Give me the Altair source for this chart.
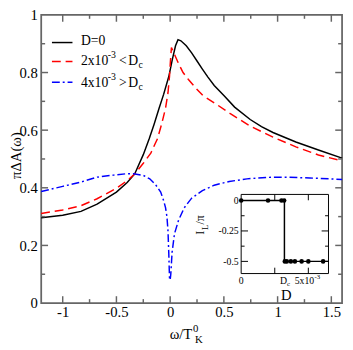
import altair as alt
import pandas as pd

W, H = 308, 295
FONT = "Liberation Serif, Times New Roman, DejaVu Serif, serif"
GRAY = "#666666"

# ---- main curves (omega/T_K, pi*Delta*A) ----
black_x = [-1.2, -1.0, -0.83, -0.68, -0.5, -0.4, -0.33, -0.25, -0.195, -0.15, -0.103, -0.06, -0.012,
           0.02, 0.05, 0.073, 0.1, 0.15, 0.2, 0.25, 0.3, 0.35, 0.41, 0.5, 0.6, 0.745, 0.85, 0.957,
           1.17, 1.38, 1.6]
black_y = [0.296, 0.305, 0.318, 0.343, 0.385, 0.418, 0.448, 0.515, 0.57, 0.62, 0.676, 0.725, 0.787,
           0.845, 0.893, 0.914, 0.91, 0.893, 0.868, 0.84, 0.812, 0.785, 0.755, 0.72, 0.68, 0.637,
           0.612, 0.592, 0.559, 0.531, 0.503]

red_x = [-1.2, -1.0, -0.83, -0.68, -0.5, -0.4, -0.33, -0.25, -0.18, -0.14, -0.118, -0.08, -0.043,
         -0.02, -0.006, 0.003, 0.012, 0.03, 0.05, 0.078, 0.12, 0.17, 0.24, 0.305, 0.41, 0.56, 0.745,
         0.957, 1.17, 1.38, 1.6]
red_y = [0.311, 0.323, 0.338, 0.362, 0.398, 0.425, 0.448, 0.485, 0.52, 0.553, 0.57, 0.62, 0.676,
         0.73, 0.787, 0.842, 0.887, 0.872, 0.855, 0.831, 0.8, 0.776, 0.745, 0.72, 0.695, 0.657,
         0.614, 0.576, 0.542, 0.514, 0.493]

blue_x = [-1.2, -1.0, -0.83, -0.68, -0.527, -0.4, -0.34, -0.25, -0.19, -0.134, -0.088, -0.06, -0.043,
          -0.03, -0.02, -0.013, -0.006, 0.0, 0.006, 0.018, 0.04, 0.078, 0.13, 0.2, 0.3, 0.41, 0.55,
          0.715, 0.9, 1.08, 1.3, 1.6]
blue_y = [0.387, 0.405, 0.42, 0.437, 0.444, 0.449, 0.449, 0.443, 0.431, 0.41, 0.385, 0.355, 0.331,
          0.3, 0.25, 0.176, 0.087, 0.08, 0.1, 0.176, 0.24, 0.287, 0.33, 0.364, 0.39, 0.409, 0.422,
          0.431, 0.436, 0.437, 0.434, 0.429]

x_major = [-1, -0.5, 0, 0.5, 1, 1.5]
x_minor = [-0.75, -0.25, 0.25, 0.75, 1.25]
y_major = [0, 0.2, 0.4, 0.6, 0.8, 1]
y_major_ticks = [0.2, 0.4, 0.6, 0.8]
y_minor = [0.1, 0.3, 0.5, 0.7, 0.9]

# ---- inset (D, I_L/pi) ----
D_c = 0.00315
pts_D = [0, 0.002, 0.003, 0.0032, 0.00325, 0.0034, 0.0037, 0.004, 0.0045, 0.005, 0.0061]
pts_I = [0, 0, 0, 0, -0.5, -0.5, -0.5, -0.5, -0.5, -0.5, -0.5]
step_D = [0, 0.00322, 0.00322, 0.0065]
step_I = [0, 0, -0.5, -0.5]
in_xdom = [0, 0.0065]
in_ydom = [-0.6, 0.05]
in_xticks = [0.0025, 0.005]
in_ymajor = [0, -0.25, -0.5]
in_yminor = [-0.125, -0.375]

# inset placement inside the plot area (pixels)
IL, IR, IT, IB = 204.7, 294.1, 183.8, 264.8

xs = alt.Scale(domain=[-1.2, 1.6], nice=False, zero=False)
ys = alt.Scale(domain=[0, 1], nice=False, zero=False)
xs_in = alt.Scale(domain=in_xdom, range=[IL, IR], nice=False, zero=False)
ys_in = alt.Scale(domain=in_ydom, range=[IB, IT], nice=False, zero=False)


def df(x, y):
    return pd.DataFrame({"x": x, "y": y, "i": list(range(len(x)))})


def xticks(vals, scale, y0, y1, color, width):
    return alt.Chart(pd.DataFrame({"v": vals})).mark_rule(color=color, strokeWidth=width).encode(
        x=alt.X("v:Q", scale=scale, axis=None), y=alt.value(y0), y2=alt.value(y1))


def yticks(vals, scale, x0, x1, color, width):
    return alt.Chart(pd.DataFrame({"v": vals})).mark_rule(color=color, strokeWidth=width).encode(
        y=alt.Y("v:Q", scale=scale, axis=None), x=alt.value(x0), x2=alt.value(x1))


def label(txt, x, y, size, align="left", angle=0):
    return alt.Chart(pd.DataFrame({"t": [txt]})).mark_text(
        align=align, baseline="middle", font=FONT, fontSize=size, angle=angle, color="black"
    ).encode(text="t:N", x=alt.value(x), y=alt.value(y))


black = alt.Chart(df(black_x, black_y)).mark_line(color="black", strokeWidth=1.5).encode(
    x=alt.X("x:Q", scale=xs, axis=alt.Axis(
        orient="bottom", values=x_major, labelExpr="toString(datum.value)", ticks=False, tickSize=0,
        domain=False, grid=False, title=None, labelFont=FONT, labelFontSize=15, labelColor="black",
        labelPadding=2, labelFlush=False, labelOverlap=False)),
    y=alt.Y("y:Q", scale=ys, axis=alt.Axis(
        orient="left", values=y_major, labelExpr="toString(datum.value)", ticks=False, tickSize=0,
        domain=False, grid=False, title=None, labelFont=FONT, labelFontSize=15, labelColor="black",
        labelPadding=4, labelFlush=False, labelOverlap=False)),
    order="i:Q",
)
red = alt.Chart(df(red_x, red_y)).mark_line(color="#ff0000", strokeWidth=1.5, strokeDash=[9, 5]).encode(
    x=alt.X("x:Q", scale=xs, axis=None), y=alt.Y("y:Q", scale=ys, axis=None), order="i:Q")
blue = alt.Chart(df(blue_x, blue_y)).mark_line(color="#0000ff", strokeWidth=1.5,
                                               strokeDash=[8, 3, 2, 3]).encode(
    x=alt.X("x:Q", scale=xs, axis=None), y=alt.Y("y:Q", scale=ys, axis=None), order="i:Q")

main_ticks = [
    xticks(x_major, xs, H, H - 7, GRAY, 1.5), xticks(x_minor, xs, H, H - 4, GRAY, 1.5),
    xticks(x_major, xs, 0, 7, GRAY, 1.5), xticks(x_minor, xs, 0, 4, GRAY, 1.5),
    yticks(y_major_ticks, ys, 0, 7, GRAY, 1.5), yticks(y_minor, ys, 0, 4, GRAY, 1.5),
    yticks(y_major_ticks, ys, W, W - 7, GRAY, 1.5), yticks(y_minor, ys, W, W - 4, GRAY, 1.5),
]


# legend
def leg_line(y, color, dash):
    props = dict(color=color, strokeWidth=1.5)
    if dash:
        props["strokeDash"] = dash
    return alt.Chart(pd.DataFrame({"t": [0]})).mark_rule(**props).encode(
        x=alt.value(11), x2=alt.value(32), y=alt.value(y))


legend = [
    leg_line(28.3, "black", None), leg_line(47.7, "#ff0000", [9, 5]), leg_line(69, "#0000ff", [8, 3, 2, 3]),
    label("D=0", 40.7, 27, 14),
    label("2x10", 40.7, 47.5, 14), label("-3", 68.2, 41.5, 10), label("<", 79.7, 47.5, 14),
    label("D", 89.2, 47.5, 14), label("c", 99.6, 51.5, 10),
    label("4x10", 40.7, 70, 14), label("-3", 68.2, 64, 10), label(">", 79.7, 70, 14),
    label("D", 89.2, 70, 14), label("c", 99.6, 74, 10),
]

titles = [
    label("\u03c0\u0394A(\u03c9)", -25.5, 144, 15, align="center", angle=270),
    label("\u03c9/T", 154.7, 327, 15, align="right"),
    label("0", 155.5, 321.5, 11), label("K", 157.5, 332.5, 11),
]

main = alt.layer(black, red, blue, *main_ticks, *legend, *titles).resolve_axis(
    x="independent", y="independent")

# inset
frame = alt.Chart(pd.DataFrame({"x0": [in_xdom[0]], "x1": [in_xdom[1]], "y0": [in_ydom[0]],
                                "y1": [in_ydom[1]]})).mark_rect(
    fill="white", stroke="black", strokeWidth=1).encode(
    x=alt.X("x0:Q", scale=xs_in, axis=None), x2="x1:Q",
    y=alt.Y("y0:Q", scale=ys_in, axis=alt.Axis(
        orient="left", offset=-IL, values=in_ymajor, labelExpr="toString(datum.value)",
        ticks=False, tickSize=0, domain=False, grid=False, title=None, labelFont=FONT,
        labelFontSize=10, labelColor="black", labelPadding=3, labelFlush=False, labelOverlap=False)),
    y2="y1:Q")
step = alt.Chart(pd.DataFrame({"D": step_D, "I": step_I, "i": list(range(len(step_D)))})).mark_line(
    color="black", strokeWidth=1.5).encode(
    x=alt.X("D:Q", scale=xs_in, axis=None), y=alt.Y("I:Q", scale=ys_in, axis=None), order="i:Q")
pts = alt.Chart(pd.DataFrame({"D": pts_D, "I": pts_I})).mark_circle(color="black", size=22, opacity=1).encode(
    x=alt.X("D:Q", scale=xs_in, axis=None), y=alt.Y("I:Q", scale=ys_in, axis=None))

inset_ticks = [
    xticks(in_xticks, xs_in, IB, IB - 6, "black", 1), xticks(in_xticks, xs_in, IT, IT + 6, "black", 1),
    yticks(in_ymajor[1:], ys_in, IL, IL + 7, "black", 1), yticks(in_yminor, ys_in, IL, IL + 3.5, "black", 1),
    yticks(in_ymajor[1:], ys_in, IR, IR - 7, "black", 1), yticks(in_yminor, ys_in, IR, IR - 3.5, "black", 1),
]


def ilabel(txt, val, y, size, align="center", dx=0):
    return alt.Chart(pd.DataFrame({"t": [txt], "v": [val]})).mark_text(
        align=align, baseline="middle", font=FONT, fontSize=size, color="black", dx=dx).encode(
        text="t:N", x=alt.X("v:Q", scale=xs_in, axis=None), y=alt.value(y))


inset_labels = [
    ilabel("0", 0, 272.5, 10),
    ilabel("D", D_c, 272.5, 10),
    ilabel("c", D_c, 275.5, 7, align="left", dx=3.5),
    ilabel("5x10", 0.005, 272.5, 10, align="right", dx=6),
    ilabel("-3", 0.005, 268.5, 7, align="left", dx=6.3),
]
inset_titles = [
    label("I", 163, 223, 12, align="center", angle=270),
    label("L", 167.5, 217.5, 9, align="center", angle=270),
    label("/\u03c0", 163, 210, 12, align="center", angle=270),
    label("D", 251, 287, 15, align="center"),
]

inset = alt.layer(frame, step, pts, *inset_ticks, *inset_labels, *inset_titles).resolve_axis(
    x="independent", y="independent")

chart = alt.layer(main, inset).resolve_scale(x="independent", y="independent").resolve_axis(
    x="independent", y="independent").properties(
    width=W, height=H,
    autosize=alt.AutoSizeParams(type="none"),
    padding={"left": 34, "top": 3, "right": 3, "bottom": 44},
).configure_view(stroke=GRAY, strokeWidth=1.8)

chart.save("out.html", embed_options={"renderer": "svg", "actions": False})
